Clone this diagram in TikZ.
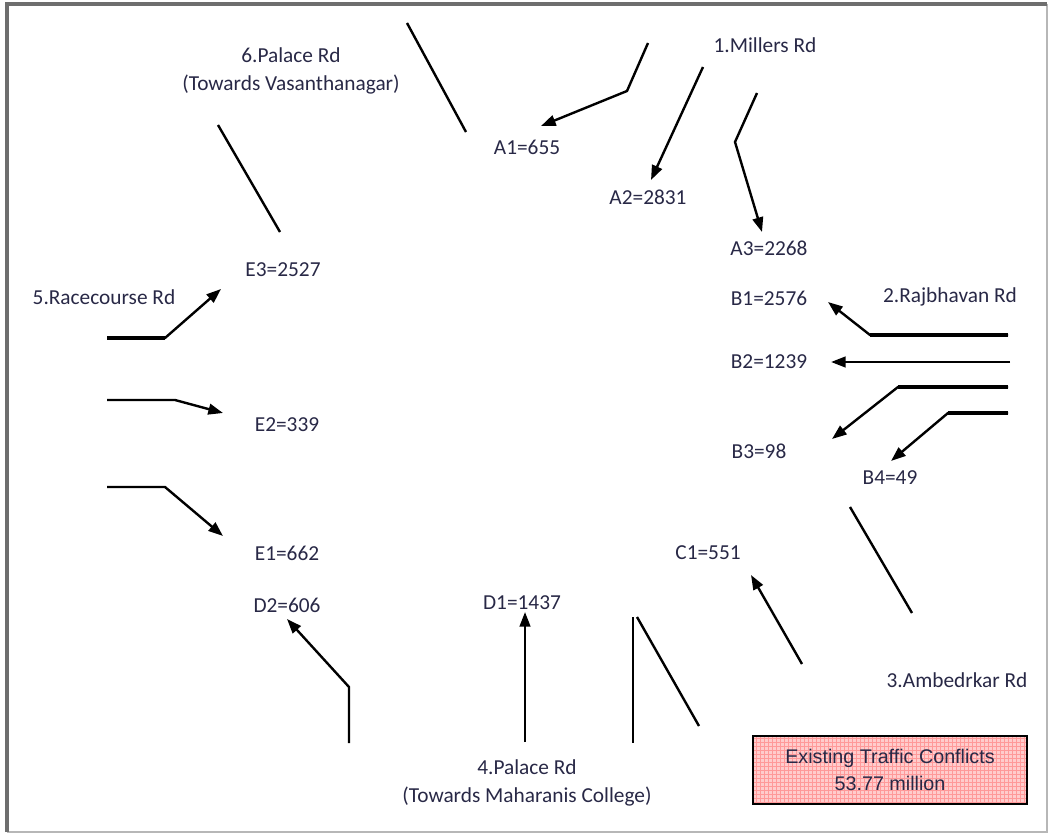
\documentclass[tikz,border=0pt]{standalone}
\usepackage{fontspec}
\setmainfont{Carlito}
\newfontfamily\boxfont{Liberation Sans}
\usetikzlibrary{arrows.meta,patterns}

\definecolor{lbltext}{RGB}{40,40,70}
\definecolor{framegray}{RGB}{110,110,110}

\begin{document}
\begin{tikzpicture}[
        x=0.75pt, y=-0.75pt,
        lbl/.style={inner sep=0pt, align=center, text=lbltext, font=\fontsize{16}{21}\selectfont},
        road/.style={line width=1.8pt},
        flow/.style={line width=1.8pt, -{Triangle[length=11pt,width=8pt]}},
        kerb/.style={line width=3.3pt},
        note/.style={draw, line width=1.5pt, preaction={fill=red!20}, pattern=grid, pattern color=red!40,
            minimum width=206pt, minimum height=51pt, align=center, text=lbltext,
            font=\boxfont\fontsize{14.8}{20}\selectfont},
    ]

    \useasboundingbox (0,0) rectangle (1052,834);
    \draw[framegray!50, line width=1.2pt] (1047,4) -- (1047,832) -- (7,832);
    \draw[framegray, line width=2.5pt] (7,832) -- (7,4) -- (1047,4);

    % 6. Palace Rd
    \node[lbl] (palsix) at (291,71) {6.Palace Rd\\(Towards Vasanthanagar)};
    \draw[road] (407,23) -- (466,132);
    \draw[road] (218,125) -- (280,232);

    % 1. Millers Rd
    \node[lbl] (millers) at (765,45) {1.Millers Rd};
    \node[lbl] (a1) at (527,147) {A1=655};
    \node[lbl] (a2) at (648,197) {A2=2831};
    \node[lbl] (a3) at (769,248) {A3=2268};
    \draw[flow] (648,43) -- (627,91) -- (541,126);
    \draw[flow] (703,67) -- (651,180);
    \draw[flow] (757,93) -- (735,142) -- (762,232);

    % 2. Rajbhavan Rd
    \node[lbl] (rajb) at (950,297) {2.Rajbhavan Rd};
    \node[lbl] (b1) at (769,298) {B1=2576};
    \node[lbl] (b2) at (769,362) {B2=1239};
    \node[lbl] (b3) at (759,451) {B3=98};
    \node[lbl] (b4) at (890,478) {B4=49};
    \draw[flow] (1008,335) -- (870,335) -- (828,302);
    \draw[kerb] (1008,335) -- (870,335);
    \draw[flow] (1010,362) -- (831,362);
    \draw[flow] (1008,387) -- (898,387) -- (832,439);
    \draw[kerb] (1008,387) -- (898,387);
    \draw[flow] (1008,413) -- (948,413) -- (891,461);
    \draw[kerb] (1008,413) -- (948,413);

    % 3. Ambedrkar Rd
    \node[lbl] (ambed) at (957,680) {3.Ambedrkar Rd};
    \node[lbl] (c1) at (708,553) {C1=551};
    \draw[road] (850,507) -- (912,613);
    \draw[flow] (802,664) -- (751,575);

    % 4. Palace Rd
    \node[lbl] (palfour) at (527,783) {4.Palace Rd\\(Towards Maharanis College)};
    \node[lbl] (d1) at (522,603) {D1=1437};
    \node[lbl] (d2) at (287,605) {D2=606};
    \draw[road] (633,617) -- (633,743);
    \draw[road] (637,617) -- (699,726);
    \draw[flow] (525,742) -- (525,612);
    \draw[flow] (349,743) -- (349,687) -- (287,619);

    % 5. Racecourse Rd
    \node[lbl] (race) at (104,297) {5.Racecourse Rd};
    \node[lbl] (e3) at (283,270) {E3=2527};
    \node[lbl] (e2) at (287,425) {E2=339};
    \node[lbl] (e1) at (287,553) {E1=662};
    \draw[flow] (107,338) -- (165,338) -- (221,289);
    \draw[kerb] (107,338) -- (165,338);
    \draw[flow] (107,400) -- (175,400) -- (223,413);
    \draw[flow] (107,487) -- (165,487) -- (223,536);

    % total
    \node[note] (conflicts) at (890,770) {Existing Traffic Conflicts\\53.77 million};

\end{tikzpicture}
\end{document}
